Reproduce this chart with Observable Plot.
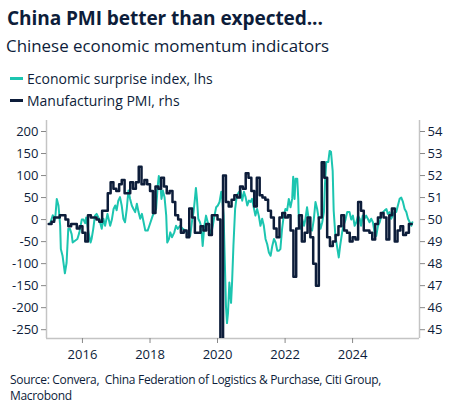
<!DOCTYPE html>
<html>
<head>
<meta charset="utf-8">
<script src="https://cdn.jsdelivr.net/npm/d3@7"></script>
<script src="https://cdn.jsdelivr.net/npm/@observablehq/plot@0.6"></script>
<style>
  html, body { margin: 0; padding: 0; background: #fff; }
  #wrap { position: relative; width: 453px; height: 417px; overflow: hidden; font-family: "Open Sans", sans-serif; color: #0d1d3a; }
  .abs { position: absolute; white-space: nowrap; }
  #title { left: 7px; top: 5px; font-size: 19.1px; font-weight: 700; letter-spacing: -0.1px; }
  #subtitle { left: 6px; top: 34px; font-size: 16.9px; font-weight: 400; }
  .leg { left: 10px; font-size: 14px; display: flex; align-items: center; }
  .sw { display: inline-block; width: 13px; height: 3px; margin-right: 4px; }
  #source { left: 10px; top: 372px; font-size: 12px; letter-spacing: -0.32px; line-height: 15.5px; }
  #chart { position: absolute; left: 0; top: 112px; }
</style>
</head>
<body>
<div id="wrap">
  <div id="title" class="abs">China PMI better than expected...</div>
  <div id="subtitle" class="abs">Chinese economic momentum indicators</div>
  <div id="leg1" class="abs leg" style="top:69px"></div>
  <div id="leg2" class="abs leg" style="top:91px"></div>
  <div id="chart"></div>
  <div id="source" class="abs">Source: Convera,&nbsp; China Federation of Logistics &amp; Purchase, Citi Group,<br>Macrobond</div>
</div>
<script>
// ---- Series names / colours ----
const seriesNames = ["Economic surprise index, lhs", "Manufacturing PMI, rhs"];
const seriesColors = ["#1cc5b0", "#0d1d3a"];

// ---- Citi economic surprise index (China) (decimal year, value) ----
const esiYears = [
  2015.04, 2015.12, 2015.19, 2015.24, 2015.29, 2015.34, 2015.36, 2015.41, 2015.48, 2015.53,
  2015.58, 2015.63, 2015.68, 2015.71, 2015.78, 2015.85, 2015.91, 2015.98, 2016.03, 2016.08,
  2016.11, 2016.18, 2016.24, 2016.27, 2016.32, 2016.37, 2016.42, 2016.50, 2016.57, 2016.62,
  2016.67, 2016.74, 2016.82, 2016.87, 2016.92, 2016.97, 2017.01, 2017.06, 2017.11, 2017.16,
  2017.21, 2017.26, 2017.31, 2017.36, 2017.41, 2017.46, 2017.51, 2017.56, 2017.61, 2017.66,
  2017.71, 2017.76, 2017.81, 2017.86, 2017.88, 2017.93, 2017.98, 2018.08, 2018.18, 2018.23,
  2018.26, 2018.30, 2018.34, 2018.38, 2018.43, 2018.48, 2018.51, 2018.56, 2018.60, 2018.65,
  2018.72, 2018.77, 2018.82, 2018.89, 2018.97, 2019.05, 2019.12, 2019.19, 2019.25, 2019.29,
  2019.33, 2019.36, 2019.39, 2019.43, 2019.48, 2019.52, 2019.56, 2019.61, 2019.66, 2019.71,
  2019.76, 2019.81, 2019.86, 2019.91, 2019.96, 2020.01, 2020.06, 2020.11, 2020.14, 2020.18,
  2020.20, 2020.25, 2020.28, 2020.31, 2020.35, 2020.40, 2020.43, 2020.47, 2020.52, 2020.57,
  2020.63, 2020.68, 2020.73, 2020.78, 2020.83, 2020.88, 2020.93, 2020.98, 2021.02, 2021.07,
  2021.12, 2021.17, 2021.22, 2021.27, 2021.32, 2021.37, 2021.42, 2021.47, 2021.52, 2021.57,
  2021.62, 2021.67, 2021.72, 2021.77, 2021.81, 2021.86, 2021.91, 2021.96, 2022.01, 2022.06,
  2022.11, 2022.16, 2022.21, 2022.24, 2022.28, 2022.31, 2022.36, 2022.39, 2022.41, 2022.46,
  2022.51, 2022.56, 2022.60, 2022.65, 2022.70, 2022.75, 2022.80, 2022.85, 2022.90, 2022.95,
  2023.00, 2023.05, 2023.10, 2023.15, 2023.18, 2023.22, 2023.28, 2023.32, 2023.36, 2023.41,
  2023.44, 2023.49, 2023.59, 2023.63, 2023.69, 2023.73, 2023.79, 2023.84, 2023.91, 2023.96,
  2024.01, 2024.06, 2024.11, 2024.16, 2024.21, 2024.25, 2024.30, 2024.35, 2024.40, 2024.45,
  2024.50, 2024.55, 2024.60, 2024.65, 2024.70, 2024.75, 2024.80, 2024.85, 2024.90, 2024.95,
  2025.00, 2025.04, 2025.09, 2025.14, 2025.19, 2025.24, 2025.29, 2025.34, 2025.39, 2025.44,
  2025.49, 2025.54, 2025.59, 2025.64, 2025.69, 2025.74, 2025.77
];
const esiValues = [
  -10, 10, 0, 47, 32, -14, -67, -82, -122, -98,
  -21, -21, -33, -52, -48, -44, -29, 0, 0, -8,
  5, -29, -52, -44, -21, 9, 13, 0, -21, 2,
  -14, 13, -14, 0, 24, 32, 21, 43, 51, 32,
  2, -6, 24, 66, 47, 32, 24, 17, 36, 17,
  2, 13, -6, -25, -25, -25, -14, 9, 24, 78,
  99, 85, 47, 66, 51, 9, -52, -44, -29, -40,
  -29, -14, -21, -14, -21, -25, -33, -37, 0, 17,
  47, 72, 47, 2, -6, -18, -60, -14, 9, -6,
  -21, -33, -14, 9, 28, 32, 40, 63, 47, 9,
  -50, -197, -235, -212, -143, -189, -143, -60, 24, 55,
  62, 66, 43, 63, 51, 32, 43, 40, 47, 28,
  9, 24, 9, -14, 2, -14, -44, -56, -75, -82,
  -60, -44, -52, -71, -71, -67, -21, 9, 24, 21,
  47, 28, 47, 97, 47, 93, 93, 47, -14, -21,
  0, -14, 0, 28, 0, -21, -25, 0, 40, 24,
  0, -21, -6, 17, 78, 131, 131, 156, 154, 110,
  20, -37, -86, -60, -29, -14, 0, 17, 17, 0,
  9, -14, -6, 9, 2, -14, 9, 2, 9, 2,
  -6, 2, -6, -29, -37, -14, -6, 9, 17, 21,
  24, 13, 17, 2, 9, 17, 17, 32, 47, 50,
  40, 24, 17, 2, -6, -14, -6
];

// ---- Official manufacturing PMI, monthly Jan 2015 .. Sep 2025 ----
const pmiStart = [2015, 0];
const pmiValues = [
  49.8, 49.9, 50.1, 50.1, 50.2, 50.2, 50.0, 49.7, 49.8, 49.8, 49.6, 49.7,
  49.4, 49.0, 50.2, 50.1, 50.1, 50.0, 49.9, 50.4, 50.4, 51.2, 51.7, 51.4,
  51.3, 51.6, 51.8, 51.2, 51.2, 51.7, 51.4, 51.7, 52.4, 51.6, 51.8, 51.6,
  51.3, 50.3, 51.5, 51.4, 51.9, 51.5, 51.2, 51.3, 50.8, 50.2, 50.0, 49.4,
  49.5, 49.2, 50.5, 50.1, 49.4, 49.4, 49.7, 49.5, 49.8, 49.3, 50.2, 50.2,
  50.0, 35.7, 52.0, 50.8, 50.6, 50.9, 51.1, 51.0, 51.5, 51.4, 52.1, 51.9,
  51.3, 50.6, 51.9, 51.1, 51.0, 50.9, 50.4, 50.1, 49.6, 49.2, 50.1, 50.3,
  50.1, 50.2, 49.5, 47.4, 49.6, 50.2, 49.0, 49.4, 50.1, 49.2, 48.0, 47.0,
  50.1, 52.6, 51.9, 49.2, 48.8, 49.0, 49.3, 49.7, 50.2, 49.5, 49.4, 49.0,
  49.2, 49.1, 50.8, 50.4, 49.5, 49.5, 49.4, 49.1, 49.8, 50.1, 50.3, 50.1,
  49.1, 50.2, 50.5, 49.0, 49.5, 49.7, 49.3, 49.4, 49.8
];

// ---- Axes ----
const leftTicks = [200, 150, 100, 50, 0, -50, -100, -150, -200, -250];
const rightTicks = [54, 53, 52, 51, 50, 49, 48, 47, 46, 45];
const yearTicks = [2016, 2018, 2020, 2022, 2024];
const xDomainYears = [2014.935, 2025.98];
const yDomain = [-270, 225];
// right axis: PMI 50 sits at surprise index 0, one PMI point = 50 index points
const pmiCentre = 50, pmiFactor = 50;

// ---- helpers ----
function yearToDate(y) {
  const yr = Math.floor(y);
  const a = Date.UTC(yr, 0, 1), b = Date.UTC(yr + 1, 0, 1);
  return new Date(a + (y - yr) * (b - a));
}
const esi = esiYears.map((y, i) => ({date: yearToDate(y), value: esiValues[i]}));
const pmi = pmiValues.map((v, i) => ({date: new Date(Date.UTC(pmiStart[0], pmiStart[1] + i, 1)), value: v}));
// extend the last monthly step to the end of its month
pmi.push({date: new Date(Date.UTC(pmiStart[0], pmiStart[1] + pmiValues.length, 1)), value: pmiValues[pmiValues.length - 1]});
const toLeft = v => (v - pmiCentre) * pmiFactor;

// ---- legend ----
[["leg1", 0], ["leg2", 1]].forEach(([id, i]) => {
  const el = document.getElementById(id);
  el.innerHTML = `<span class="sw" style="background:${seriesColors[i]}"></span><span>${seriesNames[i]}</span>`;
});

const xDomain = xDomainYears.map(yearToDate);
const axisColor = "#c4c4c4";
const textColor = "#0d1d3a";

const chart = Plot.plot({
  width: 453,
  height: 260,
  marginLeft: 46,
  marginRight: 34,
  marginTop: 8,
  marginBottom: 34,
  style: {fontFamily: "Open Sans, sans-serif", fontSize: "13px", color: textColor, background: "transparent"},
  x: {type: "utc", domain: xDomain},
  y: {domain: yDomain},
  marks: [
    Plot.ruleX([xDomain[0]], {stroke: axisColor, strokeWidth: 1.5}),
    Plot.ruleX([xDomain[1]], {stroke: axisColor, strokeWidth: 1.5}),
    Plot.ruleY([yDomain[0]], {stroke: axisColor, strokeWidth: 1.5}),
    Plot.axisY({anchor: "left", ticks: leftTicks, tickFormat: d => String(d), tickSize: 5, tickPadding: 3, stroke: "#888", fill: textColor, label: null}),
    Plot.axisY({anchor: "right", ticks: rightTicks.map(toLeft), tickFormat: d => String(d / pmiFactor + pmiCentre), tickSize: 5, tickPadding: 3, stroke: "#888", fill: textColor, label: null}),
    Plot.axisX({ticks: yearTicks.map(y => new Date(Date.UTC(y, 0, 1))), tickFormat: d3.utcFormat("%Y"), tickSize: 5, tickPadding: 6, stroke: "#888", fill: textColor, label: null}),
    Plot.line(esi, {x: "date", y: "value", stroke: seriesColors[0], strokeWidth: 2, clip: true}),
    Plot.line(pmi, {x: "date", y: d => toLeft(d.value), stroke: seriesColors[1], strokeWidth: 2.5, curve: "step-after", clip: true})
  ]
});
document.getElementById("chart").appendChild(chart);
</script>
</body>
</html>
